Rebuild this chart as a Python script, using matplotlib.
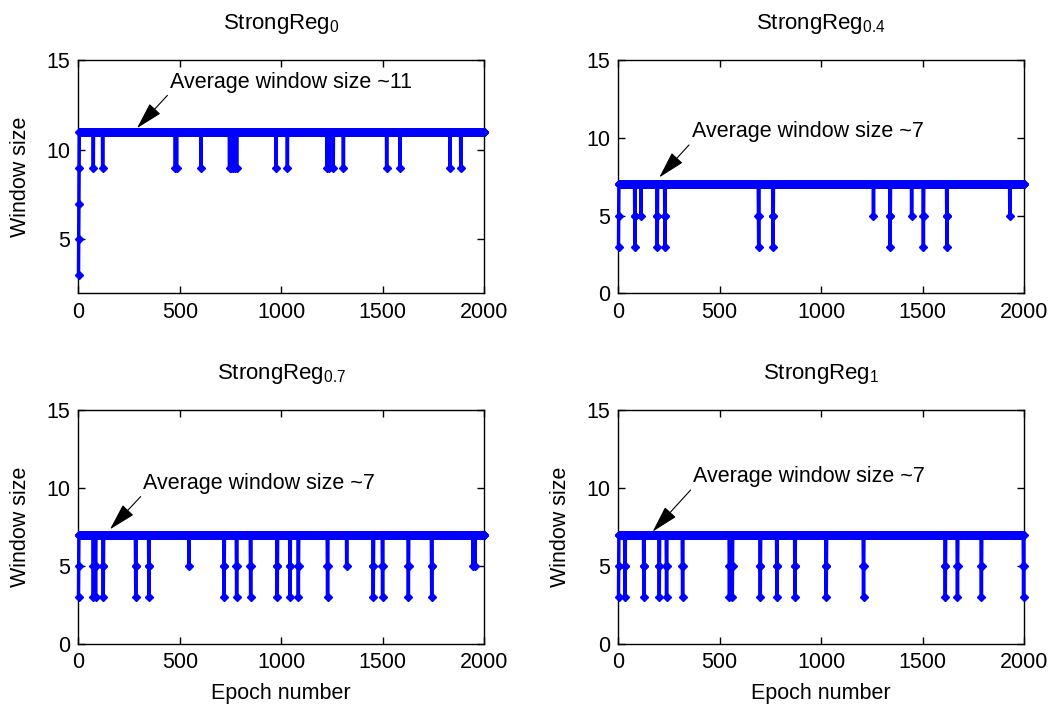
import numpy as np
import matplotlib
matplotlib.use("Agg")
import matplotlib.pyplot as plt

plt.rcParams['font.family'] = ['Liberation Sans', 'DejaVu Sans']
plt.rcParams['mathtext.fontset'] = 'custom'
plt.rcParams['mathtext.rm'] = 'Liberation Sans'
plt.rcParams['mathtext.it'] = 'Liberation Sans'

N_EPOCHS = 2000

titles = ['StrongReg$_{\\mathrm{0}}$', 'StrongReg$_{\\mathrm{0.4}}$',
          'StrongReg$_{\\mathrm{0.7}}$', 'StrongReg$_{\\mathrm{1}}$']

# base window size, starting ramp, and dips (epoch, lowest value)
base1 = 11
start1 = [3, 5, 7, 9, 11]
dips1 = [(74, 9), (120, 9), (478, 9), (484, 9), (604, 9), (745, 9), (752, 9),
         (762, 9), (770, 9), (780, 9), (974, 9), (1030, 9), (1226, 9), (1234, 9),
         (1256, 9), (1306, 9), (1519, 9), (1585, 9), (1831, 9), (1884, 9)]

base2 = 7
start2 = [3, 5, 7]
dips2 = [(82, 3), (112, 5), (192, 3), (230, 3), (692, 3), (763, 3), (1258, 5),
         (1340, 3), (1446, 5), (1504, 3), (1620, 3), (1930, 5)]

base3 = 7
start3 = [3, 5, 7]
dips3 = [(74, 3), (85, 3), (123, 3), (283, 3), (348, 3), (545, 5), (718, 3),
         (780, 3), (849, 3), (980, 3), (1043, 3), (1084, 3), (1228, 3), (1322, 5),
         (1453, 3), (1499, 3), (1626, 3), (1741, 3), (1945, 5), (1955, 5)]

base4 = 7
start4 = [3, 5, 7]
dips4 = [(33, 3), (126, 3), (202, 3), (238, 3), (317, 3), (548, 3), (562, 3),
         (700, 3), (782, 3), (871, 3), (1025, 3), (1209, 3), (1612, 3), (1672, 3),
         (1790, 3), (1998, 3)]

ylims = [(2, 15), (0, 15), (0, 15), (0, 15)]
yticks = [[5, 10, 15], [0, 5, 10, 15], [0, 5, 10, 15], [0, 5, 10, 15]]
xticks = [0, 500, 1000, 1500, 2000]

ann_texts = ['Average window size ~11', 'Average window size ~7',
             'Average window size ~7', 'Average window size ~7']
ann_tips = [(289, 11.2), (202, 7.45), (156, 7.35), (169, 7.2)]
ann_text_pos = [(452, 13.77), (361, 10.39), (320, 10.3), (369, 10.72)]


def build(base, start, dips):
    y = np.full(N_EPOCHS, float(base))
    y[:len(start)] = start
    for e, d in dips:
        down = list(range(base - 2, d - 1, -2))
        seq = down + down[:-1][::-1]
        i0 = e - 1 - (len(down) - 1)
        for k, v in enumerate(seq):
            idx = i0 + k
            if 0 <= idx < N_EPOCHS:
                y[idx] = v
    return y


series = [build(base1, start1, dips1), build(base2, start2, dips2),
          build(base3, start3, dips3), build(base4, start4, dips4)]
x = np.arange(1, N_EPOCHS + 1)

fig = plt.figure(figsize=(10.53, 7.11), dpi=100)
W, H = 1053, 711
boxes = [(78.3, 60, 484.3, 293.3), (618.3, 60, 1024, 293.3),
         (78.3, 410, 484.3, 644), (618.3, 410, 1024, 644)]
ylabel_on = [True, False, True, True]
xlabel_on = [False, False, True, True]

for i in range(4):
    l, t, r, b = boxes[i]
    ax = fig.add_axes([l / W, 1 - b / H, (r - l) / W, (b - t) / H])
    ax.plot(x, series[i], '-D', color=(0, 0, 1), lw=2.5, ms=4.5,
            mfc=(0, 0, 1), mec=(0, 0, 1), clip_on=False, zorder=3)
    ax.set_xlim(0, 2000)
    ax.set_ylim(*ylims[i])
    ax.set_xticks(xticks)
    ax.set_yticks(yticks[i])
    ax.tick_params(direction='in', top=True, right=True, length=5,
                   labelsize=15.5, width=1, pad=6)
    for s in ax.spines.values():
        s.set_linewidth(1)
    ax.set_title(titles[i], fontsize=16, pad=22)
    if ylabel_on[i]:
        ax.set_ylabel('Window size', fontsize=15.5, labelpad=11)
    if xlabel_on[i]:
        ax.set_xlabel('Epoch number', fontsize=15.5, labelpad=7)
    ax.annotate(ann_texts[i], xy=ann_tips[i], xytext=ann_text_pos[i],
                ha='left', va='center', fontsize=15.5,
                arrowprops=dict(arrowstyle='-|>,head_length=1.1,head_width=0.3',
                                color='k', lw=0.8, shrinkA=0, shrinkB=0,
                                relpos=(0, 0)), zorder=5)

fig.savefig('out.png', dpi=100)
